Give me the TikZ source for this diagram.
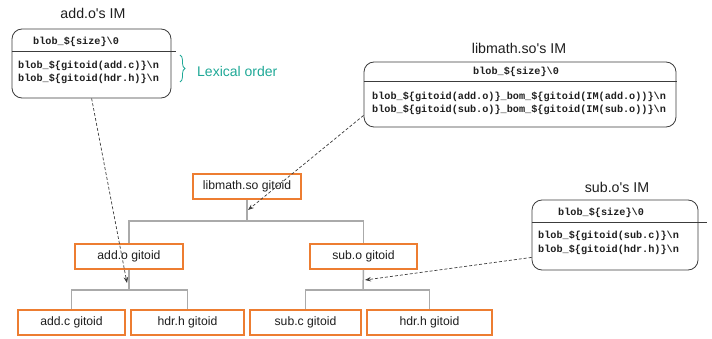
\documentclass[tikz,border=0pt]{standalone}
\usepackage{fontspec}
\setmainfont{Liberation Sans}[Ligatures=TeXOff]
\newfontfamily\monof{Liberation Mono}
\usetikzlibrary{arrows.meta,decorations.pathreplacing}
\definecolor{orangeb}{RGB}{237,125,49}
\definecolor{treeg}{RGB}{170,170,170}
\definecolor{tealc}{RGB}{30,168,150}
\definecolor{darkl}{RGB}{60,60,60}
\definecolor{txt}{RGB}{30,30,30}
\begin{document}
\begin{tikzpicture}[x=1pt,y=-1pt,
  gbox/.style={draw=orangeb,line width=1.6pt,fill=white,inner sep=0pt,minimum height=25pt,
    font=\fontsize{12.2}{14}\selectfont,text=txt},
  imbox/.style={draw=darkl,line width=0.8pt,rounded corners=10pt,inner sep=0pt},
  title/.style={font=\fontsize{14.2}{16}\selectfont,text=txt,inner sep=0pt},
  code/.style={font=\monof\bfseries\fontsize{10.2}{13}\selectfont,text=txt,inner sep=0pt,anchor=west},
  divider/.style={draw=darkl,line width=0.8pt},
  treeline/.style={draw=treeg,line width=1.5pt},
  ref/.style={draw=darkl,line width=0.7pt,dash pattern=on 3pt off 2pt,-{Stealth[length=6pt,width=4.5pt]}}]
\useasboundingbox (0,0) rectangle (712,339);

% tree nodes
\node[gbox,minimum width=108pt] (lib) at (247,186.5) {libmath.so gitoid};
\node[gbox,minimum width=108pt] (addo) at (129,256.5) {add.o gitoid};
\node[gbox,minimum width=107pt] (subo) at (363.5,256.5) {sub.o gitoid};
\node[gbox,minimum width=107pt] (addc) at (71.5,322.5) {add.c gitoid};
\node[gbox,minimum width=113pt] (hdra) at (187.5,322.5) {hdr.h gitoid};
\node[gbox,minimum width=111pt] (subc) at (305.5,322.5) {sub.c gitoid};
\node[gbox,minimum width=125pt] (hdrb) at (429.5,322.5) {hdr.h gitoid};

\coordinate (j1) at (247,221);
\coordinate (j2) at (129,290);
\coordinate (j3) at (363,290);
\draw[treeline] (lib.south) -- (j1);
\draw[treeline] (addo.north) |- (j1) -| (subo.north);
\draw[treeline] (addo.south) -- (j2);
\draw[treeline] (addc.north) |- (j2) -| (hdra.north);
\draw[treeline] (subo.south) -- (j3);
\draw[treeline] (subc.north) |- (j3) -| (hdrb.north);

% add.o's IM
\node[title] (t1) at (93,13) {add.o's IM};
\node[imbox,minimum width=159pt,minimum height=69pt] (addim) at (91.5,63.5) {};
\node[code] (a0) at (33,42) {blob\_\$\{size\}\textbackslash 0};
\draw[divider] (addim.west |- 0,51) -- (176,51);
\node[code] (a1) at (18,66) {blob\_\$\{gitoid(add.c)\}\textbackslash n};
\node[code] (a2) at (18,79) {blob\_\$\{gitoid(hdr.h)\}\textbackslash n};
\draw[tealc,line width=0.8pt,decorate,decoration={brace,amplitude=5pt}] (180,55) -- (180,82);
\node[font=\fontsize{14}{16}\selectfont,text=tealc,anchor=west,inner sep=0pt] (lex) at (197,71) {Lexical order};

% libmath.so's IM
\node[title] (t2) at (519,48) {libmath.so's IM};
\node[imbox,minimum width=312pt,minimum height=65pt] (libim) at (520,94.5) {};
\node[code] (l0) at (473,72) {blob\_\$\{size\}\textbackslash 0};
\draw[divider] (libim.west |- 0,81) -- (677,81);
\node[code] (l1) at (372,97) {blob\_\$\{gitoid(add.o)\}\_bom\_\$\{gitoid(IM(add.o))\}\textbackslash n};
\node[code] (l2) at (372,110) {blob\_\$\{gitoid(sub.o)\}\_bom\_\$\{gitoid(IM(sub.o))\}\textbackslash n};

% sub.o's IM
\node[title] (t3) at (617,187) {sub.o's IM};
\node[imbox,minimum width=166pt,minimum height=70pt] (subim) at (615,235) {};
\node[code] (s0) at (558,213) {blob\_\$\{size\}\textbackslash 0};
\draw[divider] (subim.west |- 0,222) -- (707,222);
\node[code] (s1) at (538,236) {blob\_\$\{gitoid(sub.c)\}\textbackslash n};
\node[code] (s2) at (538,250) {blob\_\$\{gitoid(hdr.h)\}\textbackslash n};

% reference arrows
\coordinate (e1) at (127,283);
\coordinate (e2) at (248,210);
\coordinate (e3) at (365,280);
\draw[ref] ([xshift=80pt]addim.south west) -- (e1);
\draw[ref] ([yshift=12pt]libim.south west) -- (e2);
\draw[ref] ([yshift=13pt]subim.south west) -- (e3);
\end{tikzpicture}
\end{document}
